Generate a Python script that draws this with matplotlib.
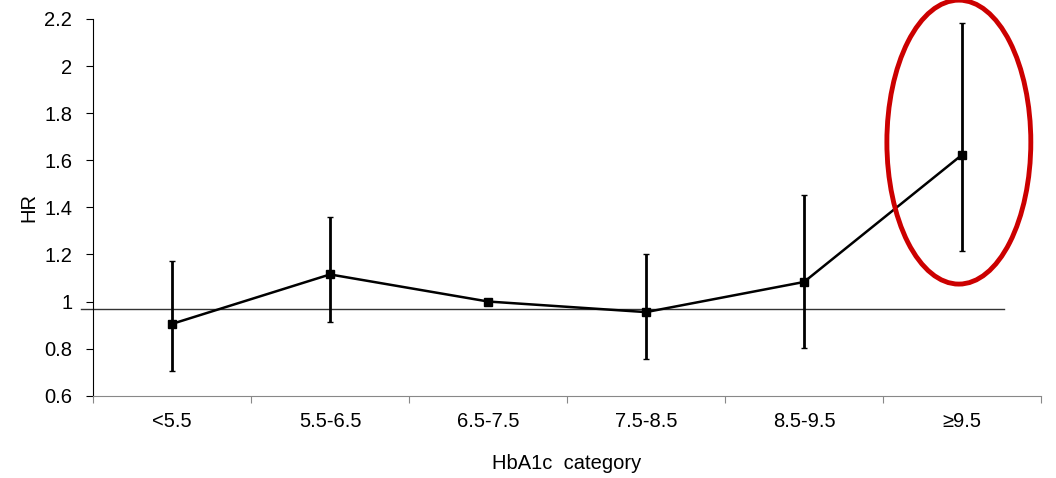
import numpy as np
import matplotlib.pyplot as plt
from matplotlib.patches import Ellipse

plt.rcParams['font.family'] = ['Liberation Sans', 'DejaVu Sans']

# HR by HbA1c category, with 95% CI
categories = ["<5.5", "5.5-6.5", "6.5-7.5", "7.5-8.5", "8.5-9.5", "\u22659.5"]
hr = [0.905, 1.115, 1.0, 0.955, 1.083, 1.623]
ci_low = [0.705, 0.913, 1.0, 0.755, 0.803, 1.215]
ci_high = [1.172, 1.358, 1.0, 1.20, 1.453, 2.182]
ref_line = 0.967

fig = plt.figure(figsize=(10.56, 4.78), dpi=100)
ax = fig.add_axes([0.0881, 0.1722, 0.8977, 0.7881])

x = np.arange(len(categories)) + 0.5
hr = np.array(hr)
yerr = [hr - np.array(ci_low), np.array(ci_high) - hr]

# reference line drawn a bit outside the axes like the original
ax.plot([-0.076, 5.766], [ref_line, ref_line], color="#333333", lw=1.0,
        clip_on=False, zorder=1)

ax.errorbar(x, hr, yerr=yerr, color="black", lw=1.8, elinewidth=2,
            capsize=2.5, capthick=1.0, marker="s", markersize=6,
            ecolor="black", zorder=3)

# highlight last category
ell = Ellipse((5.48, 1.677), 0.911, 1.206, fill=False, edgecolor="#cc0000",
              lw=3.5, clip_on=False, zorder=4)
ax.add_patch(ell)

ax.set_xlim(0, 6)
ax.set_ylim(0.6, 2.2)
ax.set_yticks(np.arange(0.6, 2.21, 0.2))
ax.set_yticklabels(["0.6", "0.8", "1", "1.2", "1.4", "1.6", "1.8", "2", "2.2"])
ax.set_xticks(np.arange(0, 7))
ax.set_xticklabels([])
ax.set_xticks(x, minor=True)
ax.set_xticklabels(categories, minor=True)
ax.tick_params(axis="x", which="minor", length=0, pad=12, labelsize=14.5)
ax.tick_params(axis="x", which="major", length=5, color="#888888")
ax.tick_params(axis="y", length=5, labelsize=14.5, pad=10)

for s in ["top", "right"]:
    ax.spines[s].set_visible(False)
ax.spines["bottom"].set_color("#888888")
ax.spines["left"].set_color("black")

ax.set_xlabel("HbA1c  category", fontsize=14.5, labelpad=16)
ax.set_ylabel("HR", fontsize=14.5, labelpad=4)

fig.savefig("out.png", dpi=100)
